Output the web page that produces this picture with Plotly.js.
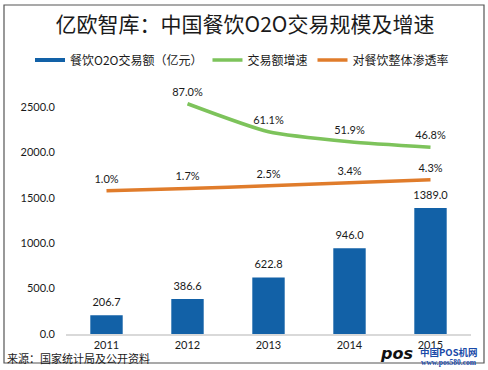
<!DOCTYPE html>
<html>
<head>
<meta charset="utf-8">
<script src="https://cdn.plot.ly/plotly-3.0.1.min.js"></script>
<style>html,body{margin:0;padding:0;background:#fff;}#chart{width:488px;height:370px;}</style>
</head>
<body>
<div id="chart"></div>
<script>
// ---- data ----
const years = ['2011', '2012', '2013', '2014', '2015'];
const volume = [206.7, 386.6, 622.8, 946.0, 1389.0];          // 餐饮O2O交易额（亿元）
const growthYears = ['2012', '2013', '2014', '2015'];
const growth = [87.0, 61.1, 51.9, 46.8];                        // 交易额增速 (%)
const penetration = [1.0, 1.7, 2.5, 3.4, 4.3];                  // 对餐饮整体渗透率 (%)
const yTicks = [0, 500, 1000, 1500, 2000, 2500];

const seriesNames = ['餐饮O2O交易额（亿元）', '交易额增速', '对餐饮整体渗透率'];
const titleText = '亿欧智库：中国餐饮O2O交易规模及增速';
const sourceText = '来源：国家统计局及公开资料';

// ---- style ----
const BLUE = '#1261a7', GREEN = '#7dc35b', ORANGE = '#e07c2b', TXT = '#1a1a1a';
const NUMF = 'Lato, "Noto Sans CJK SC", sans-serif';
const CJKF = '"Noto Sans CJK SC", sans-serif';
const HIDDEN_MARKER = {size: 7, color: 'rgba(0,0,0,0)'};

const traces = [
  {
    type: 'bar', x: years, y: volume, marker: {color: BLUE},
    showlegend: false, hoverinfo: 'skip', width: 0.4
  },
  {
    type: 'scatter', mode: 'markers+text', x: years, y: volume, marker: {size: 9, color: 'rgba(0,0,0,0)'},
    text: volume.map(v => v.toFixed(1)), textposition: 'top center',
    textfont: {family: NUMF, size: 11, color: TXT}, showlegend: false, hoverinfo: 'skip'
  },
  {
    type: 'scatter', mode: 'lines+markers+text', x: growthYears, y: growth, yaxis: 'y2',
    line: {color: GREEN, width: 3.5, shape: 'spline', smoothing: 0.6}, marker: HIDDEN_MARKER,
    text: growth.map(v => v.toFixed(1) + '%'), textposition: 'top center',
    textfont: {family: NUMF, size: 11, color: TXT}, name: seriesNames[1], hoverinfo: 'skip', legendrank: 2
  },
  {
    type: 'scatter', mode: 'lines+markers+text', x: years, y: penetration, yaxis: 'y3',
    line: {color: ORANGE, width: 3.5, shape: 'spline', smoothing: 0.4}, marker: HIDDEN_MARKER,
    text: penetration.map(v => v.toFixed(1) + '%'), textposition: 'top center',
    textfont: {family: NUMF, size: 11, color: TXT}, name: seriesNames[2], hoverinfo: 'skip', legendrank: 3
  },
  {
    type: 'scatter', mode: 'lines', x: [null], y: [null],
    line: {color: BLUE, width: 4}, name: seriesNames[0], legendrank: 1
  }
];

const layout = {
  width: 488, height: 370,
  margin: {l: 66, r: 17, t: 80, b: 36},
  paper_bgcolor: '#fff', plot_bgcolor: '#fff',
  font: {family: NUMF, color: TXT, size: 11},
  title: {
    text: titleText, font: {family: CJKF, size: 21, color: TXT},
    xref: 'container', x: 245 / 488, xanchor: 'center',
    yref: 'container', y: 1 - 25 / 370, yanchor: 'middle'
  },
  showlegend: true,
  legend: {
    orientation: 'h', xref: 'paper', yref: 'paper',
    x: (30 - 66) / 405, xanchor: 'left', y: (334 - 60) / 254, yanchor: 'middle',
    font: {family: CJKF, size: 12, color: TXT}, itemwidth: 30,
    traceorder: 'normal', bgcolor: 'rgba(0,0,0,0)'
  },
  xaxis: {
    type: 'category', range: [-0.5, 4.5], showgrid: false,
    showline: true, linecolor: '#d9d9d9', linewidth: 2, ticks: '',
    tickfont: {family: NUMF, size: 11, color: TXT}, fixedrange: true
  },
  yaxis: {
    range: [0, 2800], tickvals: yTicks, ticktext: yTicks.map(v => v.toFixed(1)),
    showgrid: false, zeroline: false, showline: false, ticks: '',
    ticklabelstandoff: 10,
    tickfont: {family: NUMF, size: 11, color: TXT}, fixedrange: true
  },
  yaxis2: {overlaying: 'y', range: [-126.3, 109.0], visible: false, fixedrange: true},
  yaxis3: {overlaying: 'y', range: [-41.65, 34.03], visible: false, fixedrange: true},
  shapes: [
    {type: 'rect', xref: 'paper', yref: 'paper',
     x0: (4 - 66) / 405, x1: (484 - 66) / 405, y0: (334 - 363) / 254, y1: (334 - 5) / 254,
     line: {color: '#555', width: 1.2}, fillcolor: 'rgba(0,0,0,0)', layer: 'below'}
  ],
  annotations: [
    {text: sourceText, xref: 'paper', yref: 'paper', x: (5 - 66) / 405, y: (334 - 358) / 254,
     xanchor: 'left', yanchor: 'middle', showarrow: false,
     font: {family: CJKF, size: 11, color: TXT}},
    {text: '<b><i>pos</i></b>', xref: 'paper', yref: 'paper', x: (396 - 66) / 405, y: (334 - 353) / 254,
     xanchor: 'center', yanchor: 'middle', showarrow: false,
     font: {family: 'DejaVu Sans, sans-serif', size: 16, color: '#111'}},
    {text: '<b>中国POS机网</b>', xref: 'paper', yref: 'paper', x: (449 - 66) / 405, y: (334 - 351.5) / 254,
     xanchor: 'center', yanchor: 'middle', showarrow: false,
     font: {family: '"Noto Sans CJK SC", serif', size: 9.5, color: '#1a4aa8'}},
    {text: '<b>www.pos580.com</b>', xref: 'paper', yref: 'paper', x: (449 - 66) / 405, y: (334 - 362) / 254,
     xanchor: 'center', yanchor: 'middle', showarrow: false,
     font: {family: '"Liberation Serif", serif', size: 7.5, color: '#1a4aa8'}}
  ]
};

Plotly.newPlot('chart', traces, layout, {staticPlot: true, displayModeBar: false});
</script>
</body>
</html>
